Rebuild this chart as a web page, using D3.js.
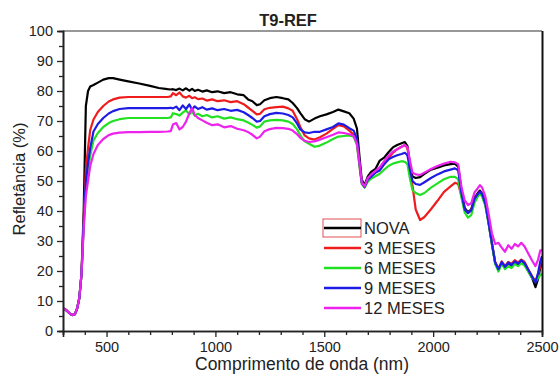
<!DOCTYPE html>
<html>
<head>
<meta charset="utf-8">
<script src="https://cdn.jsdelivr.net/npm/d3@7"></script>
<style>
  body { margin: 0; background: #fff; }
  text { font-family: Arial, "Liberation Sans", sans-serif; }
</style>
</head>
<body>
<svg id="canvas"></svg>
<script>
// wavelength grid (nm), shared by all series
let wavelengths = [
  300,310,320,335,345,355,365,375,385,395,
  405,415,425,440,460,485,510,530,560,600,
  650,700,740,780,795,805,820,835,850,865,
  880,893,905,920,940,960,985,1010,1040,1070,
  1100,1130,1150,1170,1190,1205,1225,1250,1280,1310,
  1335,1355,1375,1390,1410,1430,1455,1480,1510,1540,
  1565,1590,1615,1635,1650,1662,1672,1685,1700,1715,
  1735,1755,1775,1795,1815,1835,1855,1870,1882,1893,
  1905,1920,1940,1960,1990,2020,2050,2080,2100,2115,
  2130,2145,2160,2175,2190,2205,2215,2225,2240,2255,
  2270,2285,2300,2315,2330,2345,2360,2375,2390,2405,
  2420,2440,2455,2470,2482,2492,2500
]

let nova = [
  7.6,7.2,6.6,5.6,5.3,5.6,7.5,11,19,40,
  75,80,81.5,82,82.8,83.8,84.3,84.3,83.8,83.2,
  82.5,81.7,81,80.6,80.5,80.6,80.3,80.8,80.2,80.9,
  80.1,80.7,80.0,80.4,79.8,80.2,79.6,79.9,79.3,79.6,
  78.9,78.6,77.2,76.6,75.3,75.6,76.9,77.6,78.0,77.6,
  77.2,76.0,74.3,72.6,70.6,69.8,70.8,71.6,72.2,73.0,
  73.8,73.2,72.6,70.8,67.5,58,50.5,48.6,51.5,53.0,
  54.0,56.8,57.8,59.6,61.2,62.0,62.6,63.0,61.6,56.0,
  51.5,51.0,51.3,52.4,53.8,54.4,55.2,55.6,55.8,54.8,
  47.0,41.0,39.6,40.6,44.4,46.0,46.8,45.8,42.6,36.0,
  29.0,22.6,20.4,22.8,21.0,22.6,21.8,23.2,22.4,23.6,
  22.6,19.6,17.6,14.6,17.4,21.0,23.0
]

let meses3 = [
  7.6,7.2,6.6,5.6,5.3,5.6,7.5,11,19,37,
  54,61,67,70.5,73,75,76.5,77.2,77.8,78,
  78,78,78,78,78.2,79.3,78.6,79.5,78.2,77.8,
  78.4,77.6,77.9,77.3,77.5,76.8,77.2,76.6,76.9,76.3,
  76.6,75.6,74.5,73.4,72.2,72.4,73.9,74.4,74.6,74.8,
  74.2,73.4,70.6,68.0,65.2,64.2,63.8,64.6,65.8,67.4,
  68.6,68.2,66.8,65.4,62.5,55,49.5,48.0,50.5,51.8,
  52.8,53.6,55.6,57.6,59.4,60.6,61.4,62.0,61.0,55.5,
  48.5,40.5,37.0,38.0,40.6,43.4,46.4,48.2,49.4,49.0,
  45.0,40.5,39.4,40.2,44.0,45.6,46.4,45.4,42.4,36.2,
  29.4,23.0,20.8,23.2,21.6,23.0,22.4,23.6,22.8,23.8,
  23.0,20.2,18.2,16.6,18.6,22.0,24.0
]

let meses6 = [
  7.6,7.2,6.6,5.6,5.3,5.6,7.5,11,19,35,
  48,54,58.5,63.5,66,68,69.3,70,70.6,71,
  71,71,71,71,71.2,72.6,72.3,71.8,72.8,73.6,
  72.2,73.2,71.8,72.4,71.6,72.0,71.2,71.6,70.8,71.2,
  70.6,70.2,69.5,68.7,67.8,68.2,69.8,70.2,70.4,70.2,
  69.8,69.0,67.2,65.2,63.2,62.4,61.4,61.8,62.8,64.0,
  64.8,65.0,65.2,64.8,62.0,55,49,47.8,49.8,50.8,
  51.6,52.4,53.8,55.0,55.8,56.2,56.6,56.4,55.6,51.0,
  47.0,46.0,45.3,46.0,47.8,49.2,50.6,51.4,51.4,50.6,
  44.5,39.5,37.8,38.6,42.8,44.8,45.8,44.8,41.6,35.6,
  29.0,22.4,19.8,22.4,20.6,21.6,21.0,22.4,21.6,22.6,
  21.8,19.4,17.6,16.4,17.6,18.6,19.0
]

let meses9 = [
  7.6,7.2,6.6,5.6,5.3,5.6,7.5,11,19,36,
  50,56,61,66.5,69,71,72.5,73.3,74,74.3,
  74.3,74.3,74.3,74.3,74.4,74.2,74.8,73.6,75.2,74.0,
  75.5,73.8,74.9,74.0,74.6,73.8,74.2,73.6,74.0,73.4,
  73.7,72.9,72.0,71.0,69.8,70.0,71.6,72.3,72.7,72.5,
  72.0,71.2,69.2,67.2,66.2,66.0,66.4,66.4,67.2,68.0,
  69.2,68.8,67.6,66.8,64.0,56,49.5,48.0,50.5,51.4,
  52.8,53.6,55.6,57.2,58.0,58.6,59.0,59.4,58.6,54.0,
  50.0,49.0,48.7,49.6,51.0,52.2,53.2,53.8,54.2,53.6,
  46.0,40.5,39.3,40.2,44.0,45.6,46.4,45.6,42.4,36.0,
  29.2,22.8,20.6,23.0,21.4,22.8,22.0,23.2,22.4,23.6,
  22.6,20.0,18.0,16.2,19.4,23.2,25.0
]

let meses12 = [
  7.6,7.2,6.6,5.6,5.3,5.6,7.5,11,19,34,
  45,50,55,59,62,64,65.3,65.8,66.1,66.3,
  66.3,66.4,66.4,66.5,66.6,68.8,69.3,67.2,68.0,69.8,
  72.5,74.3,72.0,71.0,70.2,69.4,68.6,68.9,67.9,68.3,
  67.4,66.9,66.3,65.4,64.2,64.8,66.6,67.3,67.7,67.6,
  67.4,66.8,65.6,64.4,63.4,63.0,63.2,63.8,64.6,65.4,
  66.2,66.0,65.6,65.0,62.5,56,49.5,48.2,51.0,52.2,
  53.4,54.6,56.6,58.4,59.8,60.6,61.4,62.0,61.2,57.0,
  52.8,52.2,52.0,52.8,54.0,55.0,55.8,56.4,56.2,55.6,
  48.0,43.5,42.0,42.6,46.2,47.6,48.6,47.8,44.8,39.0,
  32.6,29.0,29.4,27.8,26.4,28.6,27.4,29.0,28.2,29.4,
  28.2,25.4,23.4,21.6,23.8,26.8,27.0
]

let seriesNames = ['NOVA', '3 MESES', '6 MESES', '9 MESES', '12 MESES']
let seriesValues = [nova, meses3, meses6, meses9, meses12]
let seriesColors = ['#000000', '#ee1c1c', '#22e022', '#1c1ce6', '#ee22ee']

let xMajorTicks = [500, 1000, 1500, 2000, 2500]
let yMajorTicks = [0, 10, 20, 30, 40, 50, 60, 70, 80, 90, 100]

const width = 559
const height = 374
const plotLeft = 63
const plotRight = 542
const plotTop = 31
const plotBottom = 331

let svg = d3.select('#canvas')
    .attr('width', width)
    .attr('height', height)

let xScale = d3.scaleLinear().domain([300, 2500]).range([plotLeft, plotRight])
let yScale = d3.scaleLinear().domain([0, 100]).range([plotBottom, plotTop])

svg.append('clipPath')
    .attr('id', 'plot-clip')
    .append('rect')
    .attr('x', plotLeft)
    .attr('y', plotTop)
    .attr('width', plotRight - plotLeft)
    .attr('height', plotBottom - plotTop)

// curves
let line = d3.line()
    .x((d) => xScale(d[0]))
    .y((d) => yScale(d[1]))

let plot = svg.append('g').attr('clip-path', 'url(#plot-clip)')
seriesValues.forEach((vals, i) => {
    let pts = wavelengths.map((w, j) => [w, vals[j]])
    plot.append('path')
        .datum(pts)
        .attr('fill', 'none')
        .attr('stroke', seriesColors[i])
        .attr('stroke-width', 2.2)
        .attr('stroke-linejoin', 'round')
        .attr('d', line)
})

// frame (top + right)
svg.append('line')
    .attr('x1', plotLeft).attr('x2', plotRight)
    .attr('y1', plotTop).attr('y2', plotTop)
    .attr('stroke', '#333').attr('stroke-width', 1.2)
svg.append('line')
    .attr('x1', plotRight + 0.5).attr('x2', plotRight + 0.5)
    .attr('y1', plotTop).attr('y2', plotBottom)
    .attr('stroke', '#111').attr('stroke-width', 2)

// axes
let xMinor = d3.range(300, 2501, 100).filter((v) => v % 500 !== 0)
let yMinor = d3.range(5, 100, 10)

let xAxis = d3.axisBottom(xScale).tickValues(xMajorTicks).tickSize(6).tickPadding(5).tickFormat(d3.format('d'))
let xAxisMinor = d3.axisBottom(xScale).tickValues(xMinor).tickSize(4).tickFormat('')
let yAxis = d3.axisLeft(yScale).tickValues(yMajorTicks).tickSize(6).tickPadding(4).tickFormat(d3.format('d'))
let yAxisMinor = d3.axisLeft(yScale).tickValues(yMinor).tickSize(4).tickFormat('')

let styleAxis = (g) => {
    g.select('.domain').attr('stroke', '#222').attr('stroke-width', 1.6)
    g.selectAll('.tick line').attr('stroke', '#222').attr('stroke-width', 1.3)
    g.selectAll('.tick text')
        .attr('fill', '#222')
        .style('font-size', '14.5px')
        .style('font-family', 'Arial, "Liberation Sans", sans-serif')
}

svg.append('g').attr('transform', 'translate(0,' + plotBottom + ')').call(xAxisMinor).call(styleAxis)
svg.append('g').attr('transform', 'translate(0,' + plotBottom + ')').call(xAxis).call(styleAxis)
svg.append('g').attr('transform', 'translate(' + plotLeft + ',0)').call(yAxisMinor).call(styleAxis)
svg.append('g').attr('transform', 'translate(' + plotLeft + ',0)').call(yAxis).call(styleAxis)

// title and axis labels
svg.append('text')
    .attr('x', 288).attr('y', 26)
    .attr('text-anchor', 'middle')
    .style('font-size', '16.5px').style('font-weight', 'bold')
    .attr('fill', '#222')
    .text('T9-REF')

svg.append('text')
    .attr('x', 302).attr('y', 370)
    .attr('text-anchor', 'middle')
    .style('font-size', '17.5px')
    .attr('fill', '#222')
    .text('Comprimento de onda (nm)')

svg.append('text')
    .attr('transform', 'translate(25,179) rotate(-90)')
    .attr('text-anchor', 'middle')
    .style('font-size', '16.5px')
    .attr('fill', '#222')
    .text('Refletância (%)')

// legend
let legend = svg.append('g')
legend.append('rect')
    .attr('x', 323).attr('y', 219)
    .attr('width', 38).attr('height', 18)
    .attr('fill', 'none')
    .attr('stroke', '#e05050').attr('stroke-width', 1)
seriesNames.forEach((name, i) => {
    let yy = 228 + i * 20
    legend.append('line')
        .attr('x1', 324).attr('x2', 361)
        .attr('y1', yy).attr('y2', yy)
        .attr('stroke', seriesColors[i]).attr('stroke-width', 2.4)
    legend.append('text')
        .attr('x', 364).attr('y', yy + 5.5)
        .style('font-size', '16.5px')
        .attr('fill', '#222')
        .text(name)
})
</script>
</body>
</html>
